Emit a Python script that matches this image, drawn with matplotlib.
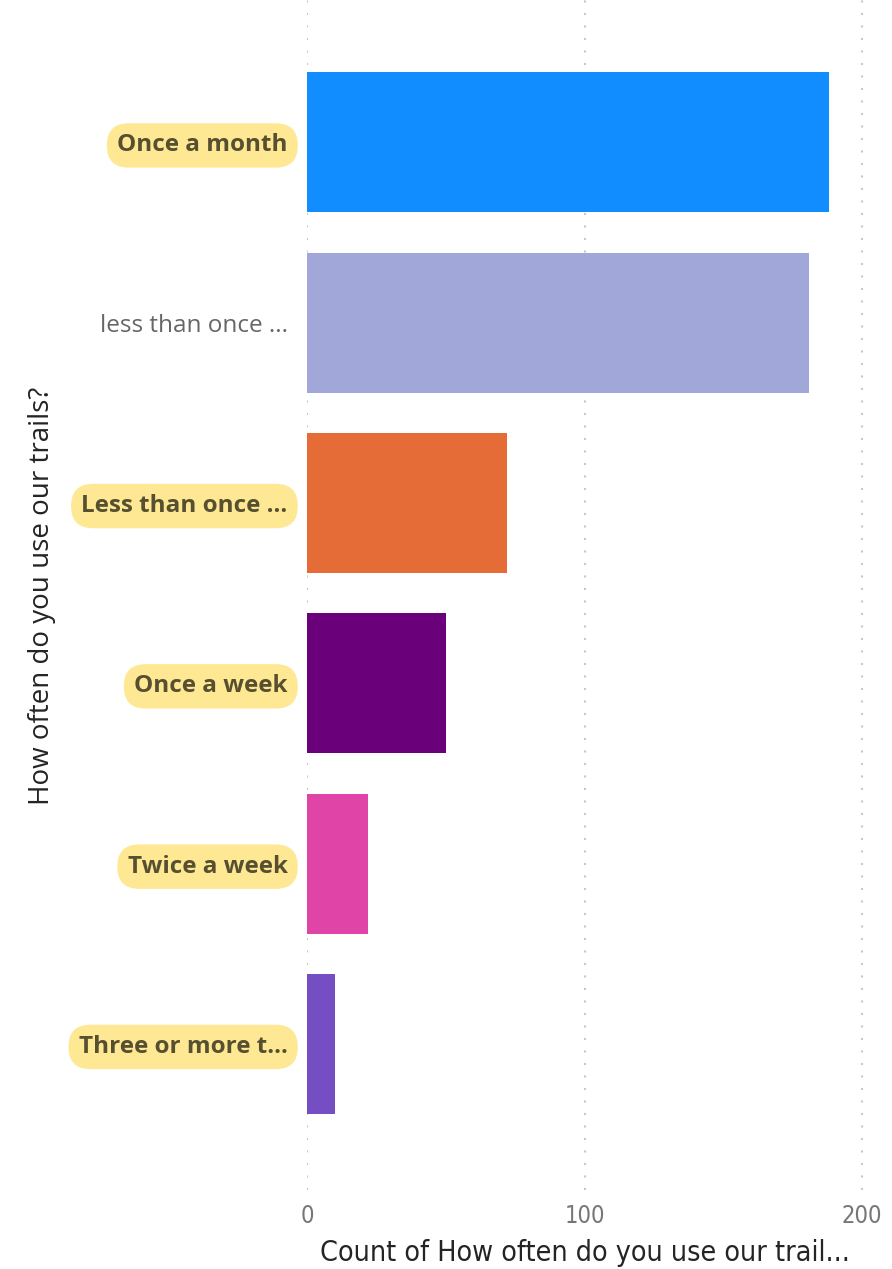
import matplotlib
matplotlib.use("Agg")
import matplotlib.pyplot as plt

# Datos de la encuesta
categories = ["Once a month", "less than once ...", "Less than once ...",
              "Once a week", "Twice a week", "Three or more t..."]
counts = [188, 181, 72, 50, 22, 10]
highlighted = [True, False, True, True, True, True]
bar_colors = ["#118DFF", "#A1A7D8", "#E66C37", "#6B007B", "#E044A7", "#744EC2"]
x_ticks = [0, 100, 200]

fig = plt.figure(figsize=(8.92, 12.69), dpi=100)
W, H = 892, 1269
left, right, top, bottom = 307, 880, 0, 1190
ax = fig.add_axes([left / W, 1 - bottom / H, (right - left) / W, (bottom - top) / H])

pos = list(range(len(categories)))
ax.barh(pos, counts, height=0.777, color=bar_colors, zorder=2)

ax.set_ylim(5.81, -0.79)
ax.set_xlim(0, (right - left) / 2.775)
ax.set_xticks(x_ticks)
ax.set_xticklabels([str(t) for t in x_ticks])
ax.grid(axis="x", color="#C8C8C8", linestyle=(0, (1, 5)), linewidth=1.5, zorder=1)
ax.tick_params(axis="x", length=0, pad=10, labelsize=17, labelcolor="#777777")
ax.tick_params(axis="y", length=0, pad=14)
for lab in ax.get_xticklabels():
    lab.set_family("DejaVu Sans")
    lab.set_fontstretch("condensed")

ax.set_yticks(pos)
ax.set_yticklabels(categories)
for lab, hl in zip(ax.get_yticklabels(), highlighted):
    lab.set_family("Open Sans")
    lab.set_fontsize(17.5)
    if hl:
        lab.set_fontweight("bold")
        lab.set_color("#575030")
        lab.set_bbox(dict(boxstyle="round,pad=0.42,rounding_size=0.9",
                          facecolor="#FEE894", edgecolor="none"))
    else:
        lab.set_color("#666666")

for s in ax.spines.values():
    s.set_visible(False)

fig.text(42 / W, 1 - 596 / H, "How often do you use our trails?", rotation=90,
         ha="center", va="center", family="Open Sans", fontsize=20, color="#252423")
fig.text(585 / W, 1 - 1253 / H, "Count of How often do you use our trail...",
         ha="center", va="center", family="DejaVu Sans", fontsize=20.5,
         color="#252423", fontstretch="condensed")

fig.savefig("out.png", dpi=100, facecolor="white")
